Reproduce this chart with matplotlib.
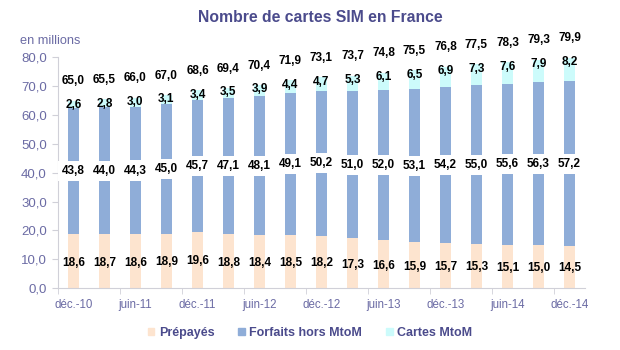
import matplotlib
matplotlib.use("Agg")
import matplotlib.pyplot as plt
from matplotlib.patches import Patch
import numpy as np

plt.rcParams['font.family'] = ['Liberation Sans', 'DejaVu Sans']

categories = ["déc.-10", "mars-11", "juin-11", "sept.-11", "déc.-11", "mars-12", "juin-12",
              "sept.-12", "déc.-12", "mars-13", "juin-13", "sept.-13", "déc.-13", "mars-14",
              "juin-14", "sept.-14", "déc.-14"]
prepayes = [18.6, 18.7, 18.6, 18.9, 19.6, 18.8, 18.4, 18.5, 18.2, 17.3, 16.6, 15.9, 15.7, 15.3, 15.1, 15.0, 14.5]
forfaits = [43.8, 44.0, 44.3, 45.0, 45.7, 47.1, 48.1, 49.1, 50.2, 51.0, 52.0, 53.1, 54.2, 55.0, 55.6, 56.3, 57.2]
mtom = [2.6, 2.8, 3.0, 3.1, 3.4, 3.5, 3.9, 4.4, 4.7, 5.3, 6.1, 6.5, 6.9, 7.3, 7.6, 7.9, 8.2]
totals = [65.0, 65.5, 66.0, 67.0, 68.6, 69.4, 70.4, 71.9, 73.1, 73.7, 74.8, 75.5, 76.8, 77.5, 78.3, 79.3, 79.9]
yticks = [0, 10, 20, 30, 40, 50, 60, 70, 80]

c_pre = "#fde4cf"
c_for = "#8fadd8"
c_m2m = "#ccfbfb"
c_axis_txt = "#6b6ba4"
c_title = "#4b4b8c"

def fr(v):
    return f"{v:.1f}".replace(".", ",")

fig = plt.figure(figsize=(6.2, 3.5), dpi=100)
ax = fig.add_axes([0.0935, 0.177, 0.85, 0.659])

x = np.arange(len(categories))
w = 0.38
pre = np.array(prepayes)
frf = np.array(forfaits)
m2m = np.array(mtom)
ax.bar(x, pre, w, color=c_pre)
ax.bar(x, frf, w, bottom=pre, color=c_for)
ax.bar(x, m2m, w, bottom=pre + frf, color=c_m2m)

lab = dict(ha="center", va="center", fontsize=8.5, fontweight="bold", color="black", clip_on=False)
for i in x:
    ax.text(i, pre[i] * 0.47, fr(pre[i]), **lab)
    ax.text(i, pre[i] + frf[i] / 2, fr(frf[i]), bbox=dict(facecolor="white", edgecolor="none", pad=3), **lab)
    ax.text(i, totals[i] - 1.5, fr(m2m[i]), **lab)
    ax.text(i, totals[i] + 6.7, fr(totals[i]), **lab)

ax.set_ylim(0, 80)
ax.set_xlim(-0.5, 16.5)
ax.set_yticks(yticks)
ax.set_yticklabels([fr(v) for v in yticks], fontsize=9.5, color=c_axis_txt)
ax.set_xticks(x[::2])
ax.set_xticklabels(categories[::2], fontsize=8.3, color=c_axis_txt)
ax.set_xticks(np.arange(-0.5, 17, 2), minor=True)
ax.tick_params(axis="x", which="major", length=0, pad=8)
ax.tick_params(axis="x", which="minor", length=4, color="#d0d0d8")
ax.tick_params(axis="y", length=4, color="#d0d0d8", pad=4)
for s in ["top", "right"]:
    ax.spines[s].set_visible(False)
for s in ["left", "bottom"]:
    ax.spines[s].set_color("#d0d0d8")

fig.text(0.516, 0.951, "Nombre de cartes SIM en France", ha="center", va="center",
         fontsize=11.3, fontweight="bold", color=c_title)
fig.text(0.032, 0.882, "en millions", ha="left", va="center", fontsize=9.2, color=c_axis_txt)

handles = [Patch(color=c_pre, label="Prépayés"),
           Patch(color=c_for, label="Forfaits hors MtoM"),
           Patch(color=c_m2m, label="Cartes MtoM")]
leg = fig.legend(handles=handles, loc="center", bbox_to_anchor=(0.5, 0.049), ncol=3, frameon=False,
                 handlelength=0.55, handleheight=0.55, handletextpad=0.35, columnspacing=1.9,
                 prop=dict(size=9, weight="bold"))
for t in leg.get_texts():
    t.set_color(c_title)

fig.savefig("out.png", dpi=100)
